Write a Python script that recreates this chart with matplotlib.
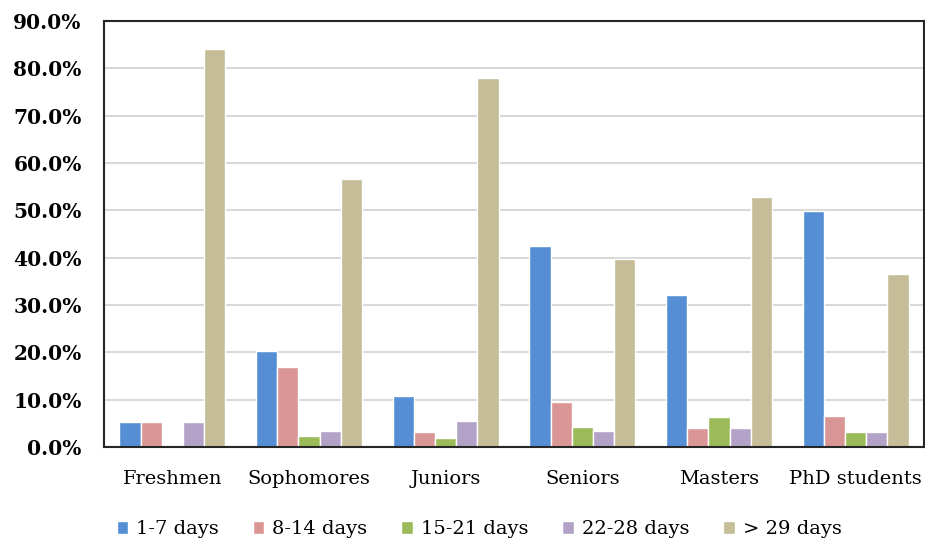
import numpy as np
import matplotlib.pyplot as plt
from matplotlib.ticker import FuncFormatter

categories = ['Freshmen', 'Sophomores', 'Juniors', 'Seniors', 'Masters', 'PhD students']
series = ['1-7 days', '8-14 days', '15-21 days', '22-28 days', '> 29 days']

d_1_7 = [5.3, 20.2, 10.8, 42.4, 32.1, 49.9]
d_8_14 = [5.3, 16.9, 3.1, 9.5, 4.0, 6.5]
d_15_21 = [0.0, 2.4, 2.0, 4.2, 6.4, 3.1]
d_22_28 = [5.3, 3.3, 5.4, 3.3, 4.0, 3.1]
d_29 = [84.1, 56.7, 78.0, 39.7, 52.8, 36.5]

colors = ['#558ED5', '#D99694', '#9BBB59', '#B3A2C7', '#C4BD97']

plt.rcParams['font.family'] = ['DejaVu Serif']

fig = plt.figure(figsize=(9.25, 5.4), dpi=100)
ax = fig.add_axes([0.1124, 0.1722, 0.8865, 0.789])

x = np.arange(len(categories))
w = 0.155
data = [d_1_7, d_8_14, d_15_21, d_22_28, d_29]
for i, (vals, name, c) in enumerate(zip(data, series, colors)):
    v = np.array(vals, dtype=float)
    v[v == 0] = np.nan  # empty cells draw nothing
    ax.bar(x + (i - 2) * w, v, w, color=c, edgecolor='white', linewidth=1.0,
           label=name, zorder=3)

ax.set_xlim(-0.5, len(categories) - 0.5)
ax.set_ylim(0, 90)
ax.set_yticks(np.arange(0, 91, 10))
ax.yaxis.set_major_formatter(FuncFormatter(lambda v, p: f'{v:.1f}%'))
ax.grid(axis='y', color='#D9D9D9', linewidth=1.5, zorder=0)
ax.set_xticks(x)
ax.set_xticklabels(categories, fontsize=14)
for lab in ax.get_yticklabels():
    lab.set_fontweight('bold')
    lab.set_fontsize(14.5)
ax.tick_params(axis='both', length=0)
ax.tick_params(axis='x', pad=16.5)
ax.tick_params(axis='y', pad=16)
for s in ax.spines.values():
    s.set_color('#262626')
    s.set_linewidth(1.5)
    s.set_zorder(4)

fig.legend(loc='center', bbox_to_anchor=(0.518, 0.02), ncol=5, frameon=False,
           fontsize=14, handlelength=0.6, handleheight=0.6, handletextpad=0.4,
           columnspacing=1.75)

fig.savefig('out.png', dpi=100)
